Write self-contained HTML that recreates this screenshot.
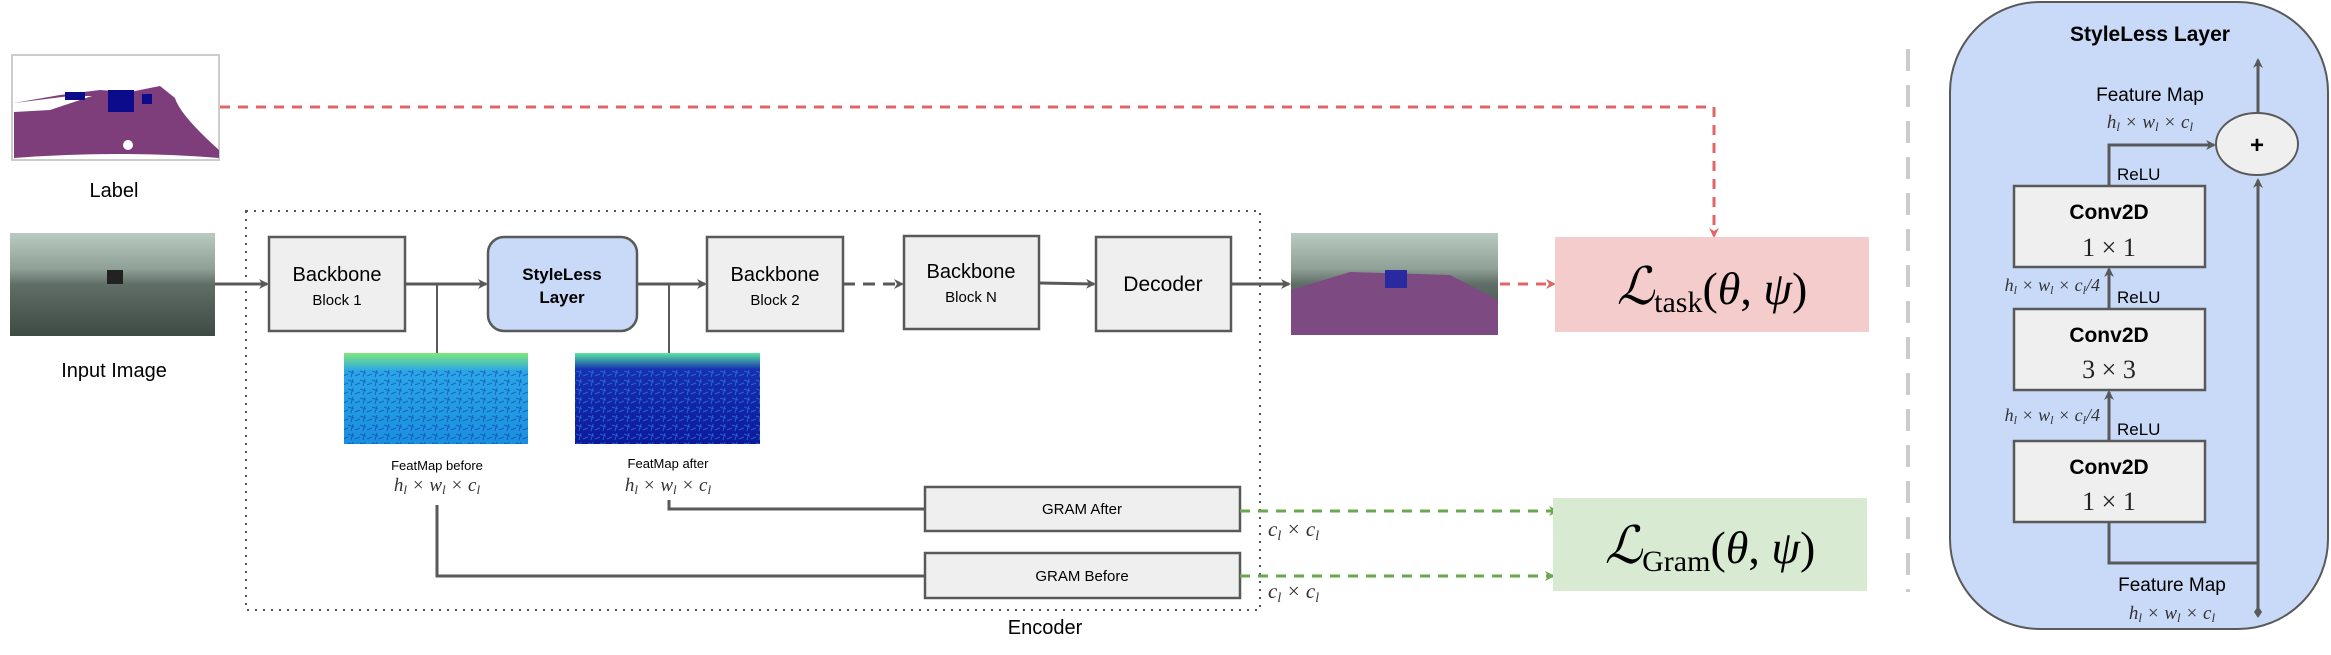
<!DOCTYPE html>
<html><head><meta charset="utf-8"><style>
html,body{margin:0;padding:0;background:#fff;}
svg{display:block;}
.s{font-family:"Liberation Sans",sans-serif;}
.m{font-family:"Liberation Serif",serif;font-style:italic;fill:#333;}
</style></head><body>
<svg width="2331" height="655" viewBox="0 0 2331 655" xmlns="http://www.w3.org/2000/svg">
<defs>
<marker id="ag" markerWidth="10" markerHeight="10" refX="8" refY="5" orient="auto" markerUnits="userSpaceOnUse"><path d="M0,0 L10,5 L0,10 L3,5 z" fill="#595959"/></marker>
<marker id="ar" markerWidth="10" markerHeight="10" refX="8" refY="5" orient="auto" markerUnits="userSpaceOnUse"><path d="M0,0 L10,5 L0,10 L3,5 z" fill="#e06666"/></marker>
<marker id="agr" markerWidth="10" markerHeight="10" refX="8" refY="5" orient="auto" markerUnits="userSpaceOnUse"><path d="M0,0 L10,5 L0,10 L3,5 z" fill="#6aa84f"/></marker>
<linearGradient id="rain" x1="0" y1="0" x2="0" y2="1"><stop offset="0" stop-color="#b9cbc0"/><stop offset="0.35" stop-color="#8fa097"/><stop offset="0.5" stop-color="#5f6e66"/><stop offset="1" stop-color="#3f4a45"/></linearGradient>
<linearGradient id="fb" x1="0" y1="0" x2="0" y2="1"><stop offset="0" stop-color="#7fe87a"/><stop offset="0.2" stop-color="#2aa6e8"/><stop offset="1" stop-color="#1a8fe0"/></linearGradient>
<linearGradient id="fa" x1="0" y1="0" x2="0" y2="1"><stop offset="0" stop-color="#5ae6a0"/><stop offset="0.18" stop-color="#1530b0"/><stop offset="1" stop-color="#0c1a9a"/></linearGradient>
<pattern id="nz" width="12" height="9" patternUnits="userSpaceOnUse"><path d="M0,2 L6,4 M7,7 L12,5 M3,8 L5,1" stroke="#0a2a90" stroke-width="1" opacity="0.5"/></pattern>
<pattern id="nz2" width="12" height="9" patternUnits="userSpaceOnUse"><path d="M0,2 L6,4 M7,7 L12,5 M3,8 L5,1" stroke="#3aa0ff" stroke-width="1" opacity="0.5"/></pattern>
</defs>

<!-- Label image -->
<rect x="12" y="55" width="207" height="105" fill="#fff" stroke="#ccc" stroke-width="2"/>
<path d="M14,103 L60,95 L100,90 L130,92 L160,86 L175,98 Q180,115 219,150 L219,158 Q120,150 14,158 Z" fill="#7e3e7c"/>
<path d="M14,103 L70,96 L92,96 L50,110 L14,112 Z" fill="#fff"/>
<rect x="108" y="90" width="26" height="22" fill="#0b0b8c"/>
<rect x="65" y="92" width="20" height="8" fill="#0b0b8c"/>
<rect x="142" y="94" width="10" height="10" fill="#0b0b8c"/>
<circle cx="128" cy="145" r="5" fill="#fff"/>
<text x="114" y="197" class="s" font-size="20" text-anchor="middle">Label</text>

<!-- Input image -->
<rect x="10" y="233" width="205" height="103" fill="url(#rain)"/>
<rect x="107" y="270" width="16" height="14" fill="#222"/>
<text x="114" y="377" class="s" font-size="20" text-anchor="middle">Input Image</text>

<!-- Encoder box -->
<rect x="246" y="211" width="1014" height="399" fill="none" stroke="#555" stroke-width="2" stroke-dasharray="2,6"/>
<text x="1045" y="634" class="s" font-size="20" text-anchor="middle">Encoder</text>

<!-- main flow lines -->
<g stroke="#595959" stroke-width="3" fill="none">
<line x1="215" y1="284" x2="267" y2="284" marker-end="url(#ag)"/>
<line x1="405" y1="284" x2="486" y2="284" marker-end="url(#ag)"/>
<line x1="637" y1="284" x2="705" y2="284" marker-end="url(#ag)"/>
<line x1="843" y1="284" x2="902" y2="284" stroke-dasharray="12,8" marker-end="url(#ag)"/>
<line x1="1039" y1="283" x2="1094" y2="284" marker-end="url(#ag)"/>
<line x1="1231" y1="284" x2="1289" y2="284" marker-end="url(#ag)"/>
<line x1="437" y1="284" x2="437" y2="353" stroke-width="2"/>
<line x1="669" y1="284" x2="669" y2="353" stroke-width="2"/>
<polyline points="669,500 669,509 925,509"/>
<polyline points="437,505 437,576 925,576"/>
</g>

<g class="s" text-anchor="middle" stroke="#595959" stroke-width="2.5">
<rect x="269" y="237" width="136" height="94" fill="#efefef"/>
<rect x="488" y="237" width="149" height="94" rx="16" fill="#c9daf8"/>
<rect x="707" y="237" width="136" height="94" fill="#efefef"/>
<rect x="904" y="236" width="135" height="93" fill="#efefef"/>
<rect x="1096" y="237" width="135" height="94" fill="#efefef"/>
<rect x="925" y="487" width="315" height="44" fill="#efefef"/>
<rect x="925" y="553" width="315" height="45" fill="#efefef"/>
</g>
<g class="s" text-anchor="middle" stroke="none">
<text x="337" y="281" font-size="20">Backbone</text>
<text x="337" y="305" font-size="15">Block 1</text>
<text x="562" y="280" font-size="17" font-weight="bold">StyleLess</text>
<text x="562" y="303" font-size="17" font-weight="bold">Layer</text>
<text x="775" y="281" font-size="20">Backbone</text>
<text x="775" y="305" font-size="15">Block 2</text>
<text x="971" y="278" font-size="20">Backbone</text>
<text x="971" y="302" font-size="15">Block N</text>
<text x="1163" y="291" font-size="21">Decoder</text>
<text x="1082" y="514" font-size="15">GRAM After</text>
<text x="1082" y="581" font-size="15">GRAM Before</text>
<text x="437" y="470" font-size="13">FeatMap before</text>
<text x="668" y="468" font-size="13">FeatMap after</text>
</g>
<text x="437" y="491" class="m" font-size="19" text-anchor="middle">h<tspan font-size="13" dy="3">l</tspan><tspan dy="-3"> × w</tspan><tspan font-size="13" dy="3">l</tspan><tspan dy="-3"> × c</tspan><tspan font-size="13" dy="3">l</tspan></text>
<text x="668" y="491" class="m" font-size="19" text-anchor="middle">h<tspan font-size="13" dy="3">l</tspan><tspan dy="-3"> × w</tspan><tspan font-size="13" dy="3">l</tspan><tspan dy="-3"> × c</tspan><tspan font-size="13" dy="3">l</tspan></text>

<!-- featmaps -->
<rect x="344" y="353" width="184" height="91" fill="url(#fb)"/>
<rect x="344" y="368" width="184" height="76" fill="url(#nz)"/>
<rect x="575" y="353" width="185" height="91" fill="url(#fa)"/>
<rect x="575" y="368" width="185" height="76" fill="url(#nz2)"/>

<!-- output image -->
<rect x="1291" y="233" width="207" height="102" fill="url(#rain)"/>
<path d="M1291,290 L1350,272 L1450,275 L1498,300 L1498,335 L1291,335 Z" fill="#7e4a82"/>
<rect x="1385" y="270" width="22" height="18" fill="#2a2aa0"/>

<!-- red dashed -->
<polyline points="220,107 1714,107 1714,236" fill="none" stroke="#e06666" stroke-width="3" stroke-dasharray="10,8" marker-end="url(#ar)"/>
<line x1="1500" y1="284" x2="1554" y2="284" stroke="#e06666" stroke-width="3" stroke-dasharray="10,8" marker-end="url(#ar)"/>

<!-- green dashed -->
<line x1="1240" y1="511" x2="1557" y2="511" stroke="#6aa84f" stroke-width="3" stroke-dasharray="10,8" marker-end="url(#agr)"/>
<line x1="1240" y1="576" x2="1553" y2="576" stroke="#6aa84f" stroke-width="3" stroke-dasharray="10,8" marker-end="url(#agr)"/>
<text x="1268" y="536" class="m" font-size="21">c<tspan font-size="14" dy="4">l</tspan><tspan dy="-4"> × c</tspan><tspan font-size="14" dy="4">l</tspan></text>
<text x="1268" y="598" class="m" font-size="21">c<tspan font-size="14" dy="4">l</tspan><tspan dy="-4"> × c</tspan><tspan font-size="14" dy="4">l</tspan></text>

<!-- loss boxes -->
<rect x="1555" y="237" width="314" height="95" fill="#f4cccc"/>
<text x="1712" y="304" font-family="Liberation Serif,serif" font-size="46" text-anchor="middle" fill="#000"><tspan font-style="italic" font-size="52">ℒ</tspan><tspan font-size="30" dy="8">task</tspan><tspan dy="-8">(</tspan><tspan font-style="italic">θ</tspan>, <tspan font-style="italic">ψ</tspan>)</text>
<rect x="1553" y="498" width="314" height="93" fill="#d9ead3"/>
<text x="1710" y="563" font-family="Liberation Serif,serif" font-size="46" text-anchor="middle" fill="#000"><tspan font-style="italic" font-size="52">ℒ</tspan><tspan font-size="30" dy="8">Gram</tspan><tspan dy="-8">(</tspan><tspan font-style="italic">θ</tspan>, <tspan font-style="italic">ψ</tspan>)</text>

<!-- divider -->
<line x1="1908" y1="49" x2="1908" y2="592" stroke="#cccccc" stroke-width="4" stroke-dasharray="22,14"/>

<!-- right panel -->
<rect x="1950" y="2" width="378" height="627" rx="90" fill="#c9daf8" stroke="#595959" stroke-width="2"/>
<text x="2150" y="41" class="s" font-size="21" font-weight="bold" text-anchor="middle">StyleLess Layer</text>
<g stroke="#595959" stroke-width="3" fill="none">
<line x1="2258" y1="612" x2="2258" y2="180" marker-end="url(#ag)"/>
<line x1="2258" y1="113" x2="2258" y2="60" marker-end="url(#ag)"/>
<polyline points="2109,522 2109,563 2258,563"/>
<line x1="2109" y1="441" x2="2109" y2="392" marker-end="url(#ag)"/>
<line x1="2109" y1="309" x2="2109" y2="269" marker-end="url(#ag)"/>
<polyline points="2109,186 2109,145 2214,145" marker-end="url(#ag)"/>
</g>
<path d="M2258,606 L2262,612 L2258,618 L2254,612 Z" fill="#595959"/>
<ellipse cx="2257" cy="144" rx="41" ry="31" fill="#efefef" stroke="#595959" stroke-width="2"/>
<text x="2257" y="153" class="s" font-size="24" font-weight="bold" text-anchor="middle">+</text>
<g stroke="#595959" stroke-width="2.5" fill="#efefef">
<rect x="2014" y="186" width="191" height="81"/>
<rect x="2014" y="309" width="191" height="81"/>
<rect x="2014" y="441" width="191" height="81"/>
</g>
<g class="s" font-size="21" font-weight="bold" text-anchor="middle">
<text x="2109" y="219">Conv2D</text>
<text x="2109" y="342">Conv2D</text>
<text x="2109" y="474">Conv2D</text>
</g>
<g font-family="Liberation Serif,serif" font-size="26" text-anchor="middle" fill="#222">
<text x="2109" y="256">1 × 1</text>
<text x="2109" y="378">3 × 3</text>
<text x="2109" y="510">1 × 1</text>
</g>
<g class="s" font-size="17">
<text x="2117" y="180">ReLU</text>
<text x="2117" y="303">ReLU</text>
<text x="2117" y="435">ReLU</text>
</g>
<text x="2150" y="101" class="s" font-size="19" text-anchor="middle">Feature Map</text>
<text x="2150" y="128" class="m" font-size="19" text-anchor="middle">h<tspan font-size="13" dy="3">l</tspan><tspan dy="-3"> × w</tspan><tspan font-size="13" dy="3">l</tspan><tspan dy="-3"> × c</tspan><tspan font-size="13" dy="3">l</tspan></text>
<text x="2172" y="591" class="s" font-size="19" text-anchor="middle">Feature Map</text>
<text x="2172" y="619" class="m" font-size="19" text-anchor="middle">h<tspan font-size="13" dy="3">l</tspan><tspan dy="-3"> × w</tspan><tspan font-size="13" dy="3">l</tspan><tspan dy="-3"> × c</tspan><tspan font-size="13" dy="3">l</tspan></text>
<text x="2100" y="291" class="m" font-size="18" text-anchor="end">h<tspan font-size="12" dy="3">l</tspan><tspan dy="-3"> × w</tspan><tspan font-size="12" dy="3">l</tspan><tspan dy="-3"> × c</tspan><tspan font-size="12" dy="3">l</tspan><tspan dy="-3">/4</tspan></text>
<text x="2100" y="421" class="m" font-size="18" text-anchor="end">h<tspan font-size="12" dy="3">l</tspan><tspan dy="-3"> × w</tspan><tspan font-size="12" dy="3">l</tspan><tspan dy="-3"> × c</tspan><tspan font-size="12" dy="3">l</tspan><tspan dy="-3">/4</tspan></text>
</svg>
</body></html>
